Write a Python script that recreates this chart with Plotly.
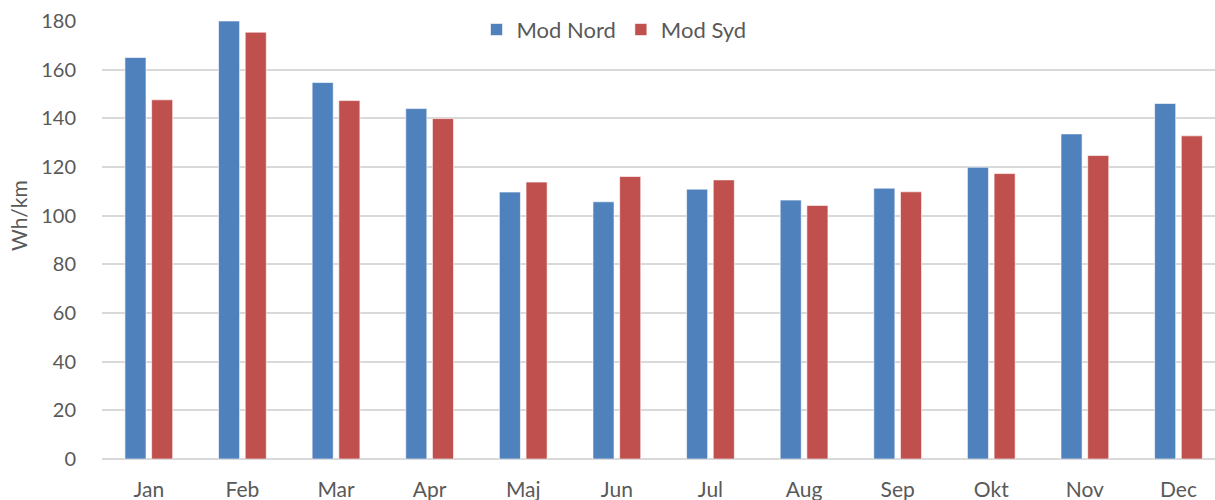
import plotly.graph_objects as go

months = ["Jan", "Feb", "Mar", "Apr", "Maj", "Jun", "Jul", "Aug", "Sep", "Okt", "Nov", "Dec"]
mod_nord = [165.0, 180.0, 154.7, 144.0, 109.7, 105.7, 110.9, 106.4, 111.3, 119.9, 133.6, 146.1]
mod_syd = [147.6, 175.4, 147.3, 139.9, 113.8, 116.1, 114.7, 104.2, 109.8, 117.3, 124.7, 132.8]
y_ticks = [0, 20, 40, 60, 80, 100, 120, 140, 160, 180]

FONT = "Lato"
TXT = "#595959"

fig = go.Figure()
fig.add_trace(go.Bar(x=months, y=mod_nord, name="Mod Nord",
                     marker=dict(color="#4F81BD", line=dict(color="rgba(255,255,255,0.6)", width=1))))
fig.add_trace(go.Bar(x=months, y=mod_syd, name="Mod Syd",
                     marker=dict(color="#C0504D", line=dict(color="rgba(255,255,255,0.6)", width=1))))

fig.update_layout(
    width=1215, height=500,
    margin=dict(l=102, r=0, t=21, b=41, autoexpand=False),
    paper_bgcolor="white", plot_bgcolor="white",
    barmode="group", bargap=0.43, bargroupgap=0.21,
    font=dict(family=FONT, size=20, color=TXT),
    showlegend=True,
    legend=dict(orientation="h", x=0.3365, y=1.028, xanchor="left", yanchor="top",
                bgcolor="rgba(0,0,0,0)", font=dict(family=FONT, size=22, color=TXT),
                traceorder="normal", itemwidth=30),
    xaxis=dict(type="category", range=[-0.5, 11.39], showgrid=False, zeroline=False,
               showline=False, ticks="", ticklabelstandoff=16, automargin=False,
               tickfont=dict(family=FONT, size=21, color=TXT)),
    yaxis=dict(range=[0, 180], tickvals=y_ticks, showgrid=True, gridcolor="#D9D9D9",
               gridwidth=2, zeroline=True, zerolinecolor="#D9D9D9", zerolinewidth=2,
               showline=False, ticks="", ticklabelstandoff=25, automargin=False,
               tickfont=dict(family=FONT, size=20, color=TXT)),
    annotations=[dict(text="Wh/km", textangle=-90, xref="paper", yref="paper",
                      x=-0.0755, y=0.557, xanchor="center", yanchor="middle",
                      showarrow=False, font=dict(family=FONT, size=21, color=TXT))],
)

fig.write_html("out.html", config={"displayModeBar": False},
               post_script="document.body.style.margin='0';document.body.style.overflow='hidden';")
